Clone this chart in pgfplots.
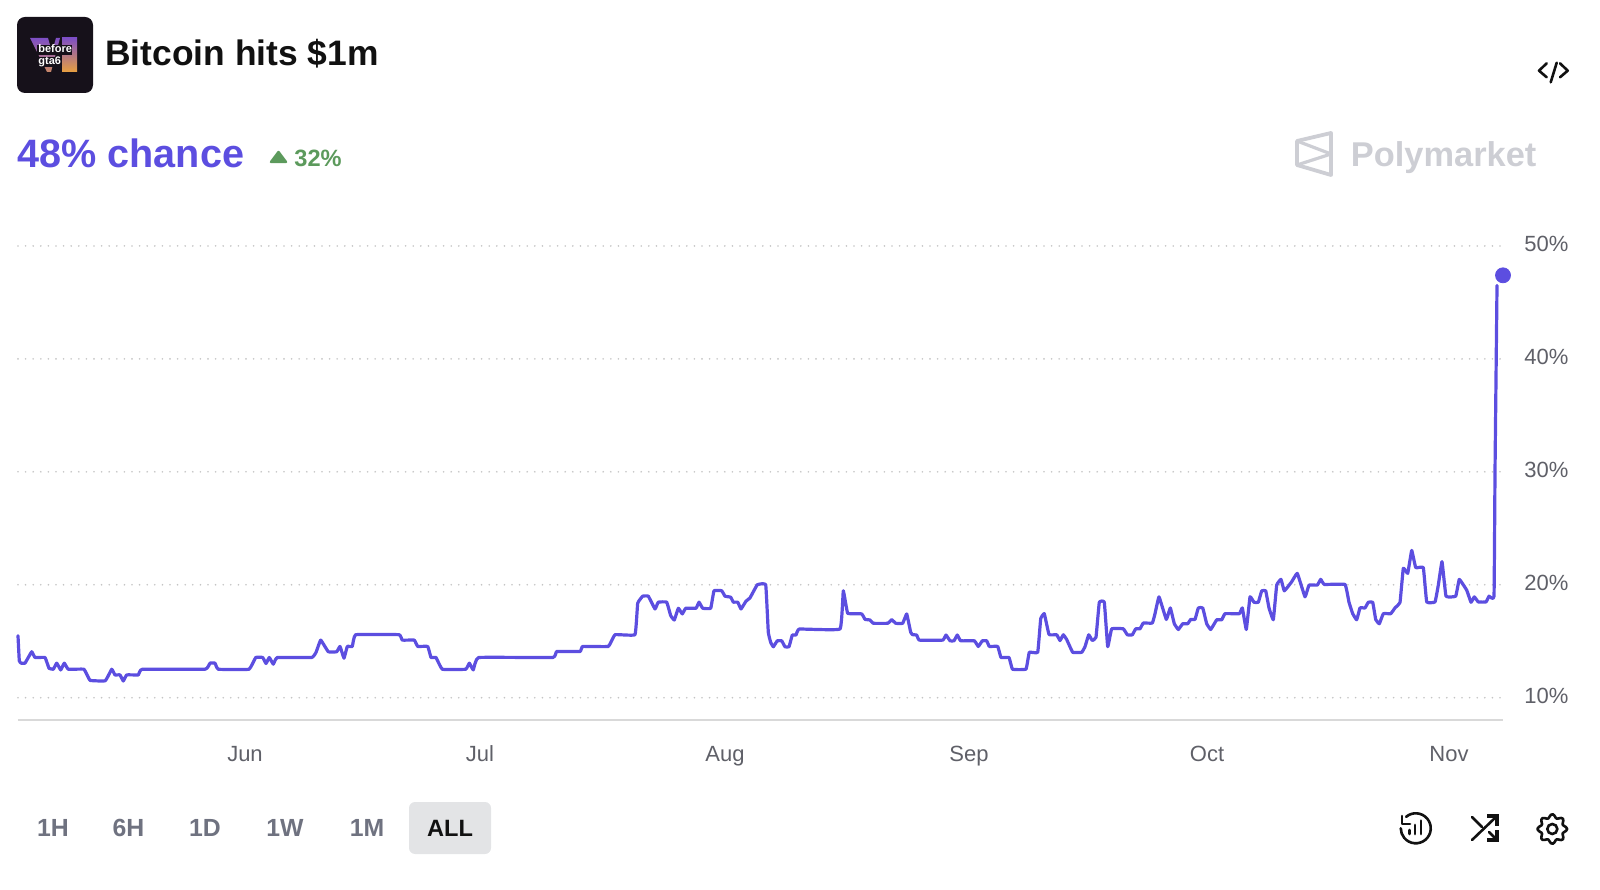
\documentclass[border=0pt]{standalone}
\usepackage{fontspec}
\setmainfont{Liberation Sans}
\usepackage{pgfplots}
\pgfplotsset{compat=1.18}
\definecolor{pm}{HTML}{5C4EE0}
\definecolor{tick}{HTML}{5F6068}
\definecolor{gridc}{HTML}{C4C4C4}
\definecolor{axisc}{HTML}{D9D9D9}
\definecolor{upg}{HTML}{5C9A5C}
\definecolor{wm}{HTML}{CDCED4}
\definecolor{btn}{HTML}{6F7280}
\definecolor{btnbg}{HTML}{E3E4E6}
\definecolor{ink}{HTML}{111111}
\definecolor{logobg}{HTML}{16111A}
\definecolor{vpurple}{HTML}{7E4FC4}
\definecolor{vorange}{HTML}{E8A040}
\newcommand{\fs}[1]{\fontsize{#1}{#1}\selectfont}
\tikzset{px/.style={x=0.5pt,y=-0.5pt,yshift=444.5pt}}
\begin{document}
\begin{tikzpicture}
\path[use as bounding box] (0,0) rectangle (800pt,444.5pt);
\begin{axis}[
  at={(9pt,84.35pt)}, anchor=south west,
  scale only axis, width=742.5pt, height=240pt,
  xmin=18, xmax=1503, ymin=8, ymax=50.5,
  axis x line*=bottom, axis y line*=right,
  x axis line style={draw=axisc, line width=0.9pt, -},
  y axis line style={draw=none, -},
  clip=false,
  major tick length=0pt,
  xtick={245,480,725,969,1207,1449},
  xticklabels={Jun,Jul,Aug,Sep,Oct,Nov},
  ytick={10,20,30,40,50},
  yticklabels={10\%,20\%,30\%,40\%,50\%},
  ymajorgrids,
  major grid style={draw=gridc, line width=0.9pt, line cap=round, dash pattern=on 0pt off 3.8pt},
  tick label style={font=\fs{11}, text=tick},
  xticklabel style={anchor=base, yshift=-20.8pt},
  yticklabel style={anchor=west, xshift=7.2pt, yshift=1pt},
]
\addplot[pm, line width=1.6pt, line join=round, line cap=round, smooth, tension=0.15, no markers] table {
18 15.49
19.3 13.26
21.3 13.06
25 13.06
31.7 14.07
35 13.56
45 13.56
49 12.61
53.3 12.52
56.7 13.06
60.7 12.46
64.3 13.06
68.3 12.52
84 12.52
90 11.54
105.3 11.5
111.7 12.52
115 12.02
120 12.02
123.3 11.48
126.7 12.02
138.3 12.02
142.3 12.52
205 12.52
210 13.06
215 13.06
218.3 12.52
249 12.52
255.7 13.56
262.7 13.56
266 13.03
269.3 13.56
273.3 12.97
277.3 13.56
311.7 13.56
316 14.01
320.7 15.10
328.3 14.07
336.7 14.07
340 14.54
344 13.50
347.3 14.54
352.3 14.54
355.7 15.58
399 15.58
402.3 15.10
414.3 15.10
417.7 14.54
427.7 14.54
431 13.56
436 13.56
442.3 12.52
465.7 12.52
469.3 13.06
473.3 12.46
478.7 13.56
552.7 13.56
556.7 14.09
580 14.09
582.7 14.54
608.3 14.54
615 15.58
635 15.58
637.7 18.37
642.7 18.99
648.3 18.99
655 17.86
658.3 18.46
666.7 18.46
670.7 17.27
674.3 16.88
678.3 17.92
682.3 17.42
685.7 17.92
696 17.92
699 18.46
702.7 17.92
710.7 17.92
714 19.47
721.7 19.47
725 18.99
730.7 18.90
733.3 18.46
737.7 18.46
741 17.86
746 18.55
750 18.84
757.3 20
765.7 20
768.3 15.79
770.7 14.90
773.3 14.51
777.3 15.04
781.7 15.04
785 14.51
789 14.51
792.3 15.55
796 15.55
799.3 16.08
840 16.08
843.3 19.47
847.7 17.48
861.7 17.42
865 16.94
870 16.88
873.3 16.59
887.7 16.59
891.7 16.91
895.7 16.59
902.7 16.59
906.7 17.42
910.7 15.79
912.7 15.58
916.7 15.55
919.3 15.10
942.7 15.10
946 15.55
950 15.04
954 15.04
957.3 15.55
960.7 15.04
974.3 15.04
978.3 14.54
982.3 15.04
986.7 15.04
989.3 14.54
997.7 14.54
1001 13.56
1009 13.56
1012.5 12.52
1026 12.53
1029.3 14.02
1037.7 14.02
1040.7 16.99
1044.3 17.44
1049 15.60
1056.7 15.57
1060 15.06
1063.3 15.57
1066.7 15.15
1072.7 14.02
1081.7 14.02
1085 14.52
1088.7 15.57
1092.3 15.06
1096 15.36
1099.3 18.45
1104.3 18.45
1107.7 14.52
1111.7 16.10
1123.3 16.10
1127.3 15.57
1132.3 15.57
1135.7 16.10
1140 16.10
1143.3 16.61
1152.3 16.61
1155 17.44
1159 18.93
1166.3 16.93
1170.3 17.95
1174.3 16.55
1178.3 16.04
1182.7 16.55
1187.7 16.55
1190.7 16.93
1195 16.93
1198.3 17.95
1202.7 17.95
1206.7 16.55
1210.7 16.04
1216.7 16.90
1221.7 16.90
1225 17.44
1239.3 17.44
1242.3 17.95
1246.3 16.04
1250 18.93
1254 18.45
1258.3 18.45
1261.7 19.46
1265.7 19.46
1269 17.95
1273.3 16.90
1276.7 19.97
1281 20.48
1284.3 19.46
1291.7 20.27
1297.3 21.01
1305 18.93
1309 19.97
1317.3 19.97
1320.7 20.48
1324.3 20.03
1345 20.03
1349 18.45
1352.7 17.44
1356.7 16.90
1360 17.95
1365 17.95
1368.3 18.45
1372.7 18.45
1375.7 16.93
1379.3 16.55
1383.3 17.44
1390.7 17.44
1395 17.95
1400 18.45
1403.3 21.46
1407.7 21.01
1411.7 23.04
1415.7 21.52
1423.3 21.52
1426.7 18.48
1435 18.48
1438.3 19.97
1442 22.05
1446 18.99
1455.7 18.99
1459.3 20.48
1466.7 19.52
1471 18.45
1474.3 18.93
1478.3 18.48
1486 18.48
1489 18.99
1494 18.99
1495 30
1497 46.5
};
\addplot[only marks, mark=*, mark size=3.75pt, mark options={fill=pm, draw=pm}] coordinates {(1503,47.4)};
\end{axis}
\begin{scope}[px]
  % logo
  \fill[logobg, rounded corners=4pt] (17,17) rectangle (93,93);
  \shade[top color=vpurple, bottom color=vorange!70!vpurple] (30,38) -- (48,38) -- (52,52) -- (56,38) -- (60,38) -- (51,72) -- (47,72) -- cycle;
  \shade[top color=vpurple, bottom color=vorange] (62,38) rectangle (77,72);
  \fill[logobg] (37,45) rectangle (72,55);
  \fill[logobg] (37,57) rectangle (62,67);
  \node[text=white, inner sep=0, anchor=base west] at (38,53) {\fs{5.5}\bfseries before};
  \node[text=white, inner sep=0, anchor=base west] at (38,65) {\fs{5.5}\bfseries gta6};
  % title
  \node[text=ink, inner sep=0, anchor=base west] at (105,66) {\fs{17.7}\bfseries Bitcoin hits \$1m};
  \node[text=pm, inner sep=0, anchor=base west] at (17,168) {\fs{19.8}\bfseries 48\% chance};
  \fill[upg, draw=upg, line width=1.2pt, line join=round] (278.5,152) -- (286,162) -- (271,162) -- cycle;
  \node[text=upg, inner sep=0, anchor=base west] at (294,166.5) {\fs{11.8}\bfseries 32\%};
  % watermark
  \draw[wm, line width=1.9pt, line join=round] (1297,141) -- (1331,133) -- (1331,175) -- (1297,165) -- cycle;
  \draw[wm, line width=1.6pt, line join=round] (1297,141) -- (1331,154) -- (1297,165);
  \node[text=wm, inner sep=0, anchor=base west] at (1350.5,166.5) {\fs{17.2}\bfseries Polymarket};
  % code icon
  \draw[ink, line width=1.3pt, line cap=round, line join=round] (1546.7,63.3) -- (1539,70.7) -- (1546.7,77.3);
  \draw[ink, line width=1.3pt, line cap=round, line join=round] (1560,63.3) -- (1567.7,70.7) -- (1560,77.3);
  \draw[ink, line width=1.3pt, line cap=round] (1556.7,62.7) -- (1550.7,82.3);
  % range buttons
  \fill[btnbg, rounded corners=3pt] (409,802) rectangle (491,854);
  \foreach \x/\t in {53/1H,128.5/6H,205/1D,285/1W,367/1M}
    \node[text=btn, inner sep=0, anchor=base] at (\x,836.5) {\fs{12.4}\bfseries \t};
  \node[text=ink, inner sep=0, anchor=base] at (450,836.5) {\fs{11.8}\bfseries ALL};
  % history icon
  \draw[ink, line width=1.3pt, line cap=round] (1406.1,816.8) arc[start angle=-130, end angle=180, radius=15];
  \draw[ink, line width=1.3pt, line cap=round, line join=round] (1402,816) -- (1402,824) -- (1410,824);
  \draw[ink, line width=1.4pt, line cap=round] (1409.3,834) -- (1409.3,830) (1415,834) -- (1415,825) (1421,834) -- (1421,820.7);
  % shuffle icon
  \draw[ink, line width=1.3pt, line cap=round] (1472,840) -- (1497,816) (1472,817) -- (1482,827) (1489,832) -- (1497,840);
  \draw[ink, line width=1.6pt] (1487,816) -- (1497,816) -- (1497,826);
  \draw[ink, line width=1.6pt] (1487,840) -- (1497,840) -- (1497,830);
  % gear icon
  \draw[ink, line width=1.3pt, line join=round, shift={(1552.3,829)}]
    plot[smooth cycle, samples=49, domain=0:352.5] (\x:{13+1.8*cos(8*\x)});
  \draw[ink, line width=1.3pt] (1552.3,829) circle[radius=5];
\end{scope}
\end{tikzpicture}
\end{document}
